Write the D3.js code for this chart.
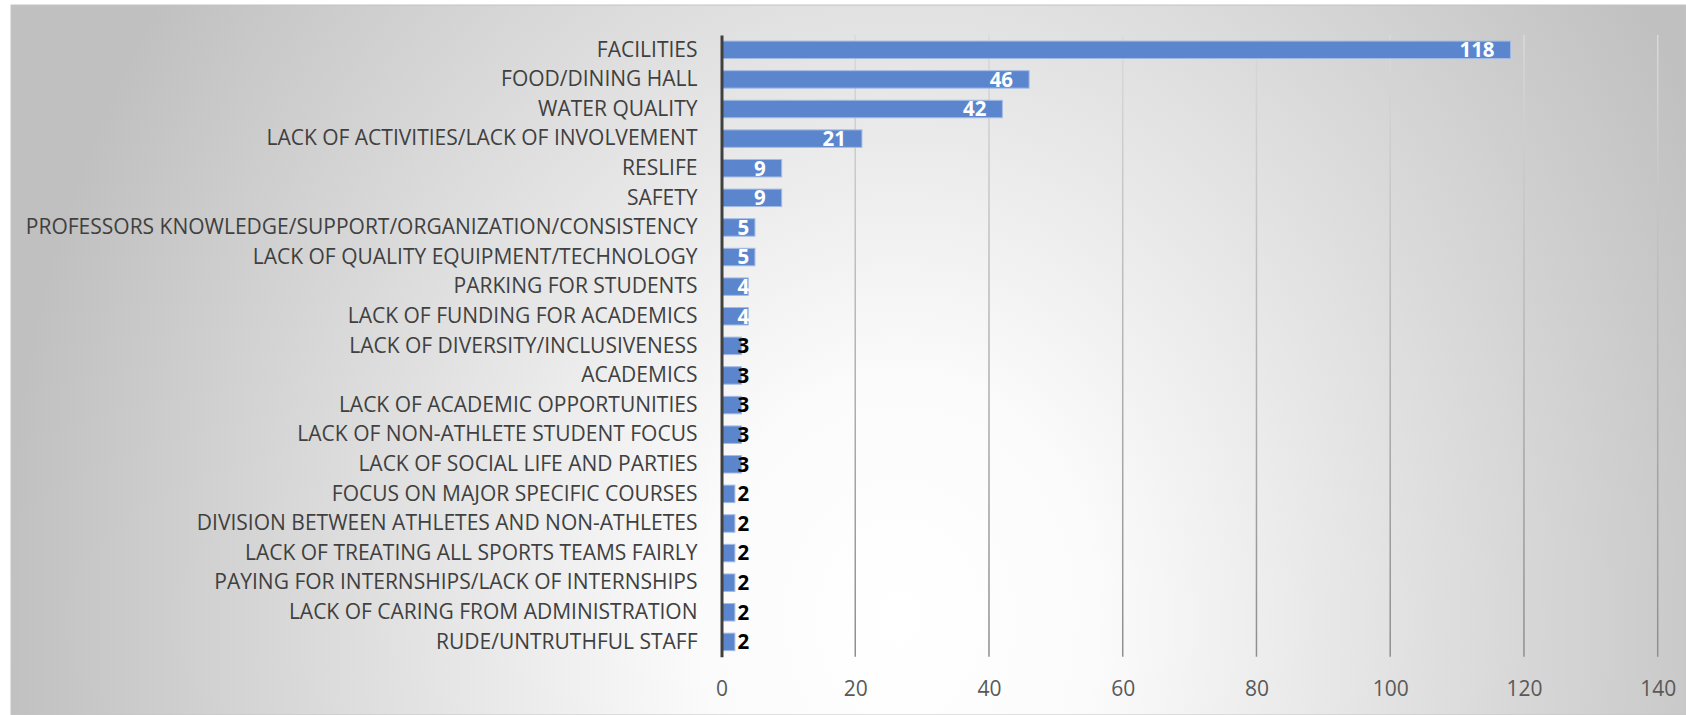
<!DOCTYPE html>
<html>
<head>
<meta charset="utf-8">
<script src="https://cdn.jsdelivr.net/npm/d3@7"></script>
<style>
  body { margin: 0; background: #ffffff; }
  svg { display: block; }
</style>
</head>
<body>
<div id="container"></div>
<script>
// data
let categories = [
  "FACILITIES",
  "FOOD/DINING HALL",
  "WATER QUALITY",
  "LACK OF ACTIVITIES/LACK OF INVOLVEMENT",
  "RESLIFE",
  "SAFETY",
  "PROFESSORS KNOWLEDGE/SUPPORT/ORGANIZATION/CONSISTENCY",
  "LACK OF QUALITY EQUIPMENT/TECHNOLOGY",
  "PARKING FOR STUDENTS",
  "LACK OF FUNDING FOR ACADEMICS",
  "LACK OF DIVERSITY/INCLUSIVENESS",
  "ACADEMICS",
  "LACK OF ACADEMIC OPPORTUNITIES",
  "LACK OF NON-ATHLETE STUDENT FOCUS",
  "LACK OF SOCIAL LIFE AND PARTIES",
  "FOCUS ON MAJOR SPECIFIC COURSES",
  "DIVISION BETWEEN ATHLETES AND NON-ATHLETES",
  "LACK OF TREATING ALL SPORTS TEAMS FAIRLY",
  "PAYING FOR INTERNSHIPS/LACK OF INTERNSHIPS",
  "LACK OF CARING FROM ADMINISTRATION",
  "RUDE/UNTRUTHFUL STAFF"
];
let counts = [118, 46, 42, 21, 9, 9, 5, 5, 4, 4, 3, 3, 3, 3, 3, 2, 2, 2, 2, 2, 2];
let xTicks = [0, 20, 40, 60, 80, 100, 120, 140];

let rows = categories.map(function(c, i){ return {name: c, value: counts[i]}; });

let W = 1686, H = 715;
let plotLeft = 721.5, plotRight = 1657.7, plotTop = 35, plotBottom = 656.7;

let svg = d3.select("#container")
  .append("svg")
  .attr("width", W)
  .attr("height", H);

let defs = svg.append("defs");

let bg = defs.append("radialGradient")
  .attr("id", "bg")
  .attr("gradientUnits", "userSpaceOnUse")
  .attr("cx", 900).attr("cy", 620).attr("r", 900)
  .attr("gradientTransform", "translate(900,620) scale(1,1.22) translate(-900,-620)");
bg.append("stop").attr("offset", 0).attr("stop-color", "#ffffff");
bg.append("stop").attr("offset", 0.22).attr("stop-color", "#fbfbfb");
bg.append("stop").attr("offset", 1).attr("stop-color", "#c0c0c0");

let grid = defs.append("linearGradient")
  .attr("id", "grid")
  .attr("gradientUnits", "userSpaceOnUse")
  .attr("x1", 0).attr("y1", plotTop).attr("x2", 0).attr("y2", plotBottom);
grid.append("stop").attr("offset", 0).attr("stop-color", "#dadada");
grid.append("stop").attr("offset", 1).attr("stop-color", "#8e8e8e");

svg.append("rect")
  .attr("x", 11)
  .attr("y", 5)
  .attr("width", W - 11)
  .attr("height", H - 5)
  .attr("fill", "url(#bg)")
  .attr("stroke", "#c4c4c4")
  .attr("stroke-width", 1);

let x = d3.scaleLinear().domain([0, 140]).range([plotLeft, plotRight]);
let y = d3.scaleBand().domain(categories).range([plotTop, plotBottom])
  .paddingInner(0.41)
  .paddingOuter(0.205);

// vertical gridlines
svg.append("g")
  .selectAll("line")
  .data(xTicks.filter(function(t){ return t > 0; }))
  .enter()
  .append("line")
  .attr("x1", function(d){ return x(d); })
  .attr("x2", function(d){ return x(d); })
  .attr("y1", plotTop)
  .attr("y2", plotBottom)
  .attr("stroke", "url(#grid)")
  .attr("stroke-width", 1.5);

// bars
svg.append("g")
  .selectAll("rect")
  .data(rows)
  .enter()
  .append("rect")
  .attr("x", x(0))
  .attr("y", function(d){ return y(d.name); })
  .attr("width", function(d){ return x(d.value) - x(0); })
  .attr("height", y.bandwidth())
  .attr("fill", "#5b86cd")
  .attr("stroke", "#a3bbe6")
  .attr("stroke-width", 1);

// category axis
let yAxis = svg.append("g")
  .attr("transform", "translate(" + plotLeft + ",0)")
  .call(d3.axisLeft(y).tickSize(0).tickSizeOuter(0).tickPadding(24));
yAxis.select(".domain")
  .attr("stroke", "#404040")
  .attr("stroke-width", 3);
yAxis.selectAll("text")
  .attr("font-family", "'Open Sans', sans-serif")
  .attr("font-size", 21)
  .attr("fill", "#404040");

// value axis
let xAxis = svg.append("g")
  .attr("transform", "translate(0," + plotBottom + ")")
  .call(d3.axisBottom(x).tickValues(xTicks).tickSize(0).tickPadding(24));
xAxis.select(".domain").remove();
xAxis.selectAll("text")
  .attr("font-family", "'Open Sans', sans-serif")
  .attr("font-size", 21)
  .attr("fill", "#595959");

// data labels, inside end, pushed right when the bar is too short
let labels = svg.append("g")
  .selectAll("text")
  .data(rows)
  .enter()
  .append("text")
  .text(function(d){ return d.value; })
  .attr("y", function(d){ return y(d.name) + y.bandwidth() / 2; })
  .attr("dy", "0.36em")
  .attr("font-family", "'Open Sans', sans-serif")
  .attr("font-weight", "bold")
  .attr("font-size", 20.5);

labels.each(function(d){
  let w = this.getComputedTextLength();
  let end = x(d.value);
  let lx = Math.max(end - 16 - w, x(0) + 16);
  d3.select(this)
    .attr("x", lx)
    .attr("fill", lx + w <= end + 1 ? "#ffffff" : "#000000");
});
</script>
</body>
</html>
